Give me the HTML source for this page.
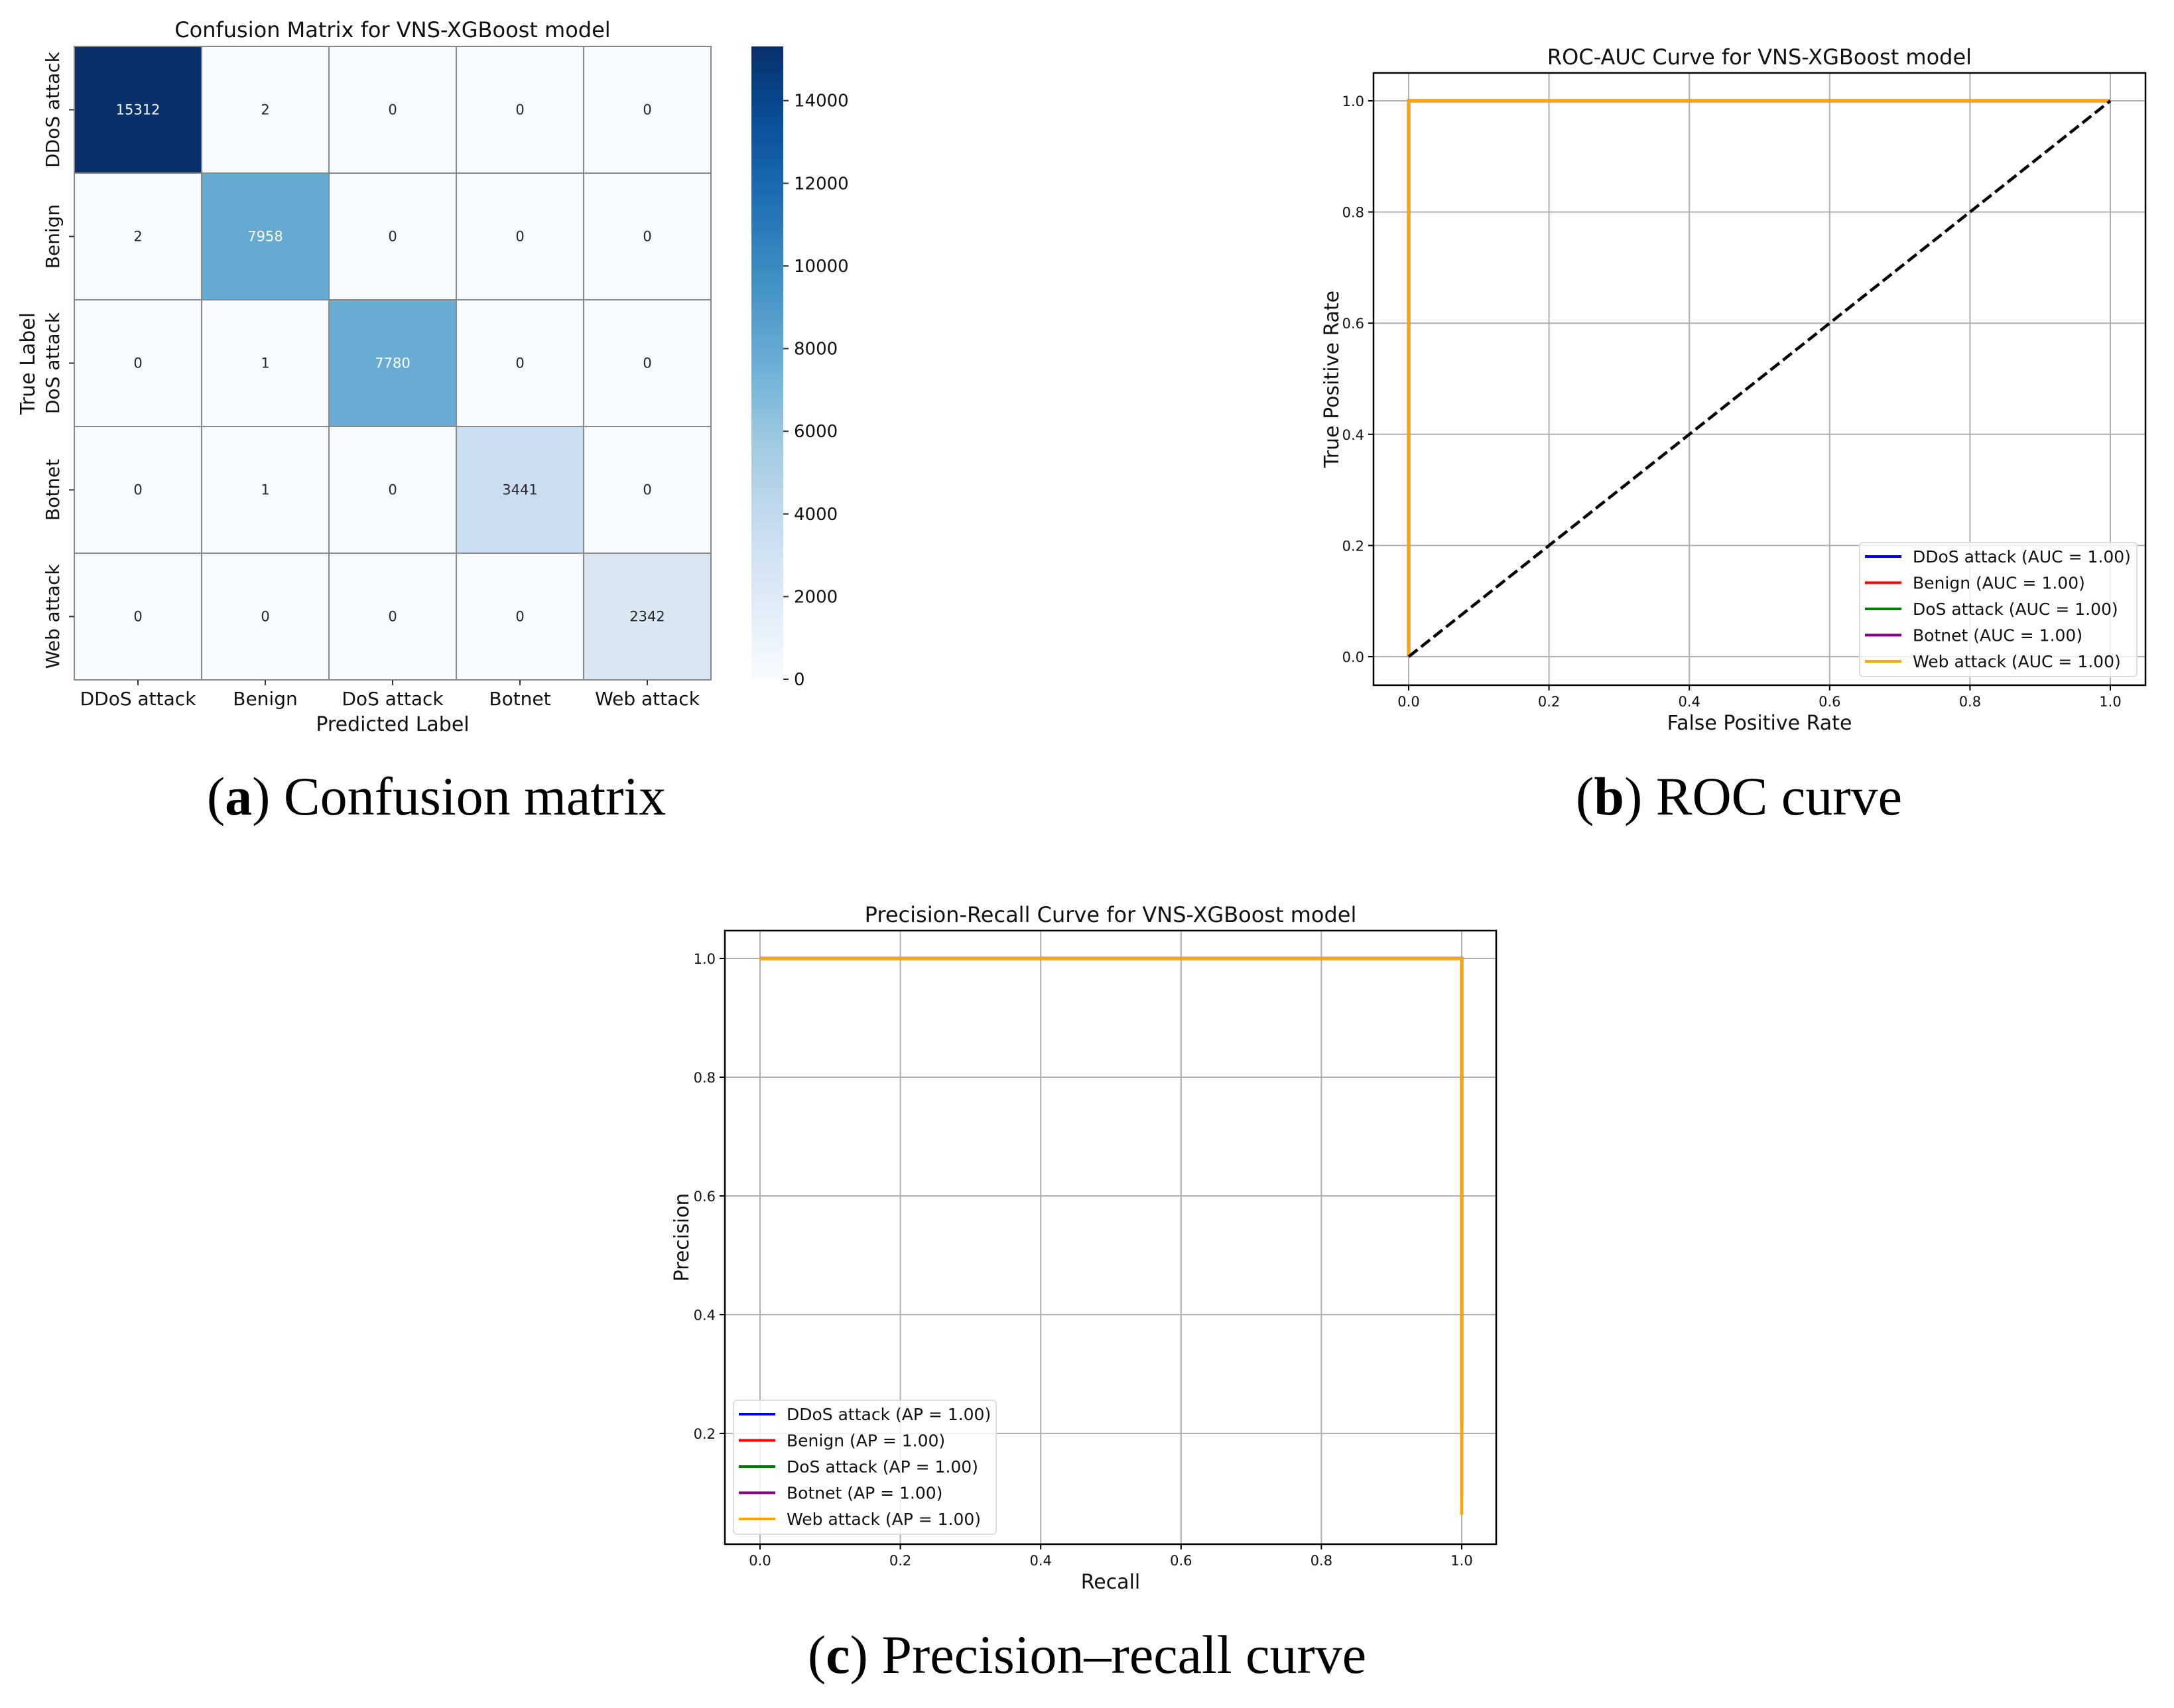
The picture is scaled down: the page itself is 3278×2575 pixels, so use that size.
<!DOCTYPE html>
<html><head><meta charset="utf-8"><style>
body{margin:0;background:#fff}
svg{display:block}
text{font-family:"DejaVu Sans","Liberation Sans",sans-serif}
.cap{font-family:"Liberation Serif",serif;font-size:82px}
</style></head><body>
<svg id="fig" xmlns="http://www.w3.org/2000/svg" width="3278" height="2575" viewBox="0 0 3278 2575">
<rect width="3278" height="2575" fill="#fff"/>
<g id="cm"></g>
<g id="roc"></g>
<g id="pr"></g>
<text class="cap" x="658" y="1228" text-anchor="middle" fill="#000">(<tspan font-weight="bold">a</tspan>) Confusion matrix</text>
<text class="cap" x="2622" y="1228" text-anchor="middle" fill="#000">(<tspan font-weight="bold">b</tspan>) ROC curve</text>
<text class="cap" x="1639" y="2522" text-anchor="middle" fill="#000">(<tspan font-weight="bold">c</tspan>) Precision–recall curve</text>
</svg>
<script>
const classes = ["DDoS attack","Benign","DoS attack","Botnet","Web attack"];
const cmRow0 = [15312,2,0,0,0];
const cmRow1 = [2,7958,0,0,0];
const cmRow2 = [0,1,7780,0,0];
const cmRow3 = [0,1,0,3441,0];
const cmRow4 = [0,0,0,0,2342];
const cbTicks = [0,2000,4000,6000,8000,10000,12000,14000];
const seriesColors = ["blue","red","green","purple","orange"];
const rocFpr = [0,0,1];
const rocTpr = [0,1,1];
const rocAuc = [1.00,1.00,1.00,1.00,1.00];
const prRecall = [0,1,1];
const prPrecisionEnd = [0.415,0.216,0.211,0.093,0.0635];
const prAp = [1.00,1.00,1.00,1.00,1.00];
const axisTicks = [0,0.2,0.4,0.6,0.8,1.0];
const prYTicks = [0.2,0.4,0.6,0.8,1.0];

const NS="http://www.w3.org/2000/svg";
function mk(p,tag,attrs,txt){const e=document.createElementNS(NS,tag);for(const k in attrs)e.setAttribute(k,attrs[k]);if(tag==='text'&&!attrs.fill)e.setAttribute('fill','#111');if(txt!==undefined)e.textContent=txt;p.appendChild(e);return e;}

const blues=["#f7fbff","#deebf7","#c6dbef","#9ecae1","#6baed6","#4292c6","#2171b5","#08519c","#08306b"];
function hex(c){return [1,3,5].map(i=>parseInt(c.substr(i,2),16));}
function blue(t){t=Math.max(0,Math.min(1,t));const f=t*8,i=Math.min(7,Math.floor(f)),r=f-i;const a=hex(blues[i]),b=hex(blues[i+1]);const c=a.map((v,k)=>Math.round(v+(b[k]-v)*r));return {s:"rgb("+c.join(",")+")",l:(0.299*c[0]+0.587*c[1]+0.114*c[2])/255};}

// ---- Confusion matrix ----
const cm=document.getElementById('cm');
const cmRows=[cmRow0,cmRow1,cmRow2,cmRow3,cmRow4];
const HX=112,HY=70,CW=192,CH=191;
let vmax=0;cmRows.forEach(r=>r.forEach(v=>{if(v>vmax)vmax=v;}));
const colX=j=>HX+j*CW, rowY=i=>HY+i*CH;
mk(cm,'text',{x:592,y:56,'text-anchor':'middle','font-size':32,},'Confusion Matrix for VNS-XGBoost model');
cmRows.forEach((row,i)=>row.forEach((v,j)=>{
  const c=blue(v/vmax);
  const r=mk(cm,'rect',{x:colX(j),y:rowY(i),width:CW,height:CH,fill:c.s,stroke:'#888','stroke-width':2});
  
  
  const col=c.l<0.7?'#ffffff':'#262626';
  const t=mk(cm,'text',{x:colX(j)+CW/2,y:rowY(i)+CH/2+7,'text-anchor':'middle','font-size':21,fill:col,style:'fill:'+col},String(v));
  
  
}));
classes.forEach((c,j)=>{
  mk(cm,'line',{x1:colX(j)+CW/2,x2:colX(j)+CW/2,y1:HY+5*CH,y2:HY+5*CH+8,stroke:'#333','stroke-width':2});
  const t=mk(cm,'text',{x:colX(j)+CW/2,y:HY+5*CH+38,'text-anchor':'middle','font-size':28},c);
  
  
  const ry=rowY(j)+CH/2;
  mk(cm,'line',{x1:HX-8,x2:HX,y1:ry,y2:ry,stroke:'#333','stroke-width':2});
  const yt=mk(cm,'text',{x:0,y:0,'text-anchor':'middle','font-size':28,transform:`translate(89,${ry}) rotate(-90)`},c);
  
  
});
mk(cm,'text',{x:HX+2.5*CW,y:1102,'text-anchor':'middle','font-size':30,},'Predicted Label');
mk(cm,'text',{x:0,y:0,'text-anchor':'middle','font-size':30,transform:'translate(52,548) rotate(-90)',},'True Label');
// colorbar
const CBX=1133,CBW=48,CBT=70,CBB=1024;
const defs=mk(cm,'defs',{});
const grad=mk(defs,'linearGradient',{id:'cbg',x1:0,y1:1,x2:0,y2:0});
for(let k=0;k<=8;k++)mk(grad,'stop',{offset:k/8,'stop-color':blues[k]});
mk(cm,'rect',{x:CBX,y:CBT,width:CBW,height:CBB-CBT,fill:'url(#cbg)',});
const cbY=v=>CBB-(v/vmax)*(CBB-CBT);
cbTicks.forEach(v=>{
  const y=cbY(v);
  mk(cm,'line',{x1:CBX+CBW,x2:CBX+CBW+8,y1:y,y2:y,stroke:'#333','stroke-width':2});
  const t=mk(cm,'text',{x:1197,y:y+9,'font-size':26},String(v));
  
  
});

// ---- generic line axes ----
function axes(g,o){
  const X=v=>o.x0+v*o.ux, Y=v=>o.y0-v*o.uy;
  o.xt.forEach(v=>{mk(g,'line',{x1:X(v),x2:X(v),y1:o.top,y2:o.bot,stroke:'#b0b0b0','stroke-width':2});});
  o.yt.forEach(v=>{mk(g,'line',{x1:o.left,x2:o.right,y1:Y(v),y2:Y(v),stroke:'#b0b0b0','stroke-width':2});});
  o.xt.forEach(v=>{
    mk(g,'line',{x1:X(v),x2:X(v),y1:o.bot,y2:o.bot+8,stroke:'#000','stroke-width':2});
    const t=mk(g,'text',{x:X(v),y:o.bot+32,'text-anchor':'middle','font-size':21},v.toFixed(1));
    
    
  });
  o.yt.forEach(v=>{
    mk(g,'line',{x1:o.left-8,x2:o.left,y1:Y(v),y2:Y(v),stroke:'#000','stroke-width':2});
    const t=mk(g,'text',{x:o.left-14,y:Y(v)+8,'text-anchor':'end','font-size':21},v.toFixed(1));
    
    
  });
  return {X,Y};
}
function frame(g,o){mk(g,'rect',{x:o.left,y:o.top,width:o.right-o.left,height:o.bot-o.top,fill:'none',stroke:'#000','stroke-width':2.5});}
function legend(g,L,labels){
  mk(g,'rect',{x:L.l,y:L.t,width:L.r-L.l,height:L.b-L.t,rx:5,fill:'#fff','fill-opacity':0.8,stroke:'#ddd','stroke-width':2,});
  labels.forEach((s,i)=>{
    const y=L.t+21+i*39.5;
    mk(g,'line',{x1:L.l+8,x2:L.l+63,y1:y,y2:y,stroke:seriesColors[i],'stroke-width':4});
    const t=mk(g,'text',{x:L.l+80,y:y+9,'font-size':25},s);
    
    
  });
}

// ---- ROC ----
const roc=document.getElementById('roc');
const ro={left:2071,right:3235,top:110,bot:1033,x0:2124,ux:1058,y0:990,uy:838,xt:axisTicks,yt:axisTicks};
const rA=axes(roc,ro);
mk(roc,'text',{x:(ro.left+ro.right)/2,y:97,'text-anchor':'middle','font-size':32,},'ROC-AUC Curve for VNS-XGBoost model');
mk(roc,'text',{x:(ro.left+ro.right)/2,y:1100,'text-anchor':'middle','font-size':30,},'False Positive Rate');
mk(roc,'text',{x:0,y:0,'text-anchor':'middle','font-size':30,transform:`translate(2018,${(ro.top+ro.bot)/2}) rotate(-90)`,},'True Positive Rate');
seriesColors.forEach((c,i)=>{
  const pts=rocFpr.map((v,k)=>rA.X(v)+','+rA.Y(rocTpr[k])).join(' ');
  const p=mk(roc,'polyline',{points:pts,fill:'none',stroke:c,'stroke-width':4.5});
  
  
});
mk(roc,'line',{x1:rA.X(0),y1:rA.Y(0),x2:rA.X(1),y2:rA.Y(1),stroke:'#000','stroke-width':4.5,'stroke-dasharray':'17,7',});
frame(roc,ro);
legend(roc,{l:2804,r:3222,t:818,b:1020},classes.map((c,i)=>`${c} (AUC = ${rocAuc[i].toFixed(2)})`));

// ---- PR ----
const pr=document.getElementById('pr');
const po={left:1093,right:2256,top:1403,bot:2328,x0:1146,ux:1058,y0:2340,uy:895,xt:axisTicks,yt:prYTicks};
const pA=axes(pr,po);
mk(pr,'text',{x:(po.left+po.right)/2,y:1390,'text-anchor':'middle','font-size':32,},'Precision-Recall Curve for VNS-XGBoost model');
mk(pr,'text',{x:(po.left+po.right)/2,y:2395,'text-anchor':'middle','font-size':30,},'Recall');
mk(pr,'text',{x:0,y:0,'text-anchor':'middle','font-size':30,transform:`translate(1038,${(po.top+po.bot)/2}) rotate(-90)`,},'Precision');
seriesColors.forEach((c,i)=>{
  const prec=[1,1,prPrecisionEnd[i]];
  const pts=prRecall.map((v,k)=>pA.X(v)+','+pA.Y(prec[k])).join(' ');
  const p=mk(pr,'polyline',{points:pts,fill:'none',stroke:c,'stroke-width':4.5});
  
  
});
frame(pr,po);
legend(pr,{l:1106,r:1502,t:2111,b:2313},classes.map((c,i)=>`${c} (AP = ${prAp[i].toFixed(2)})`));
</script>
</body></html>
